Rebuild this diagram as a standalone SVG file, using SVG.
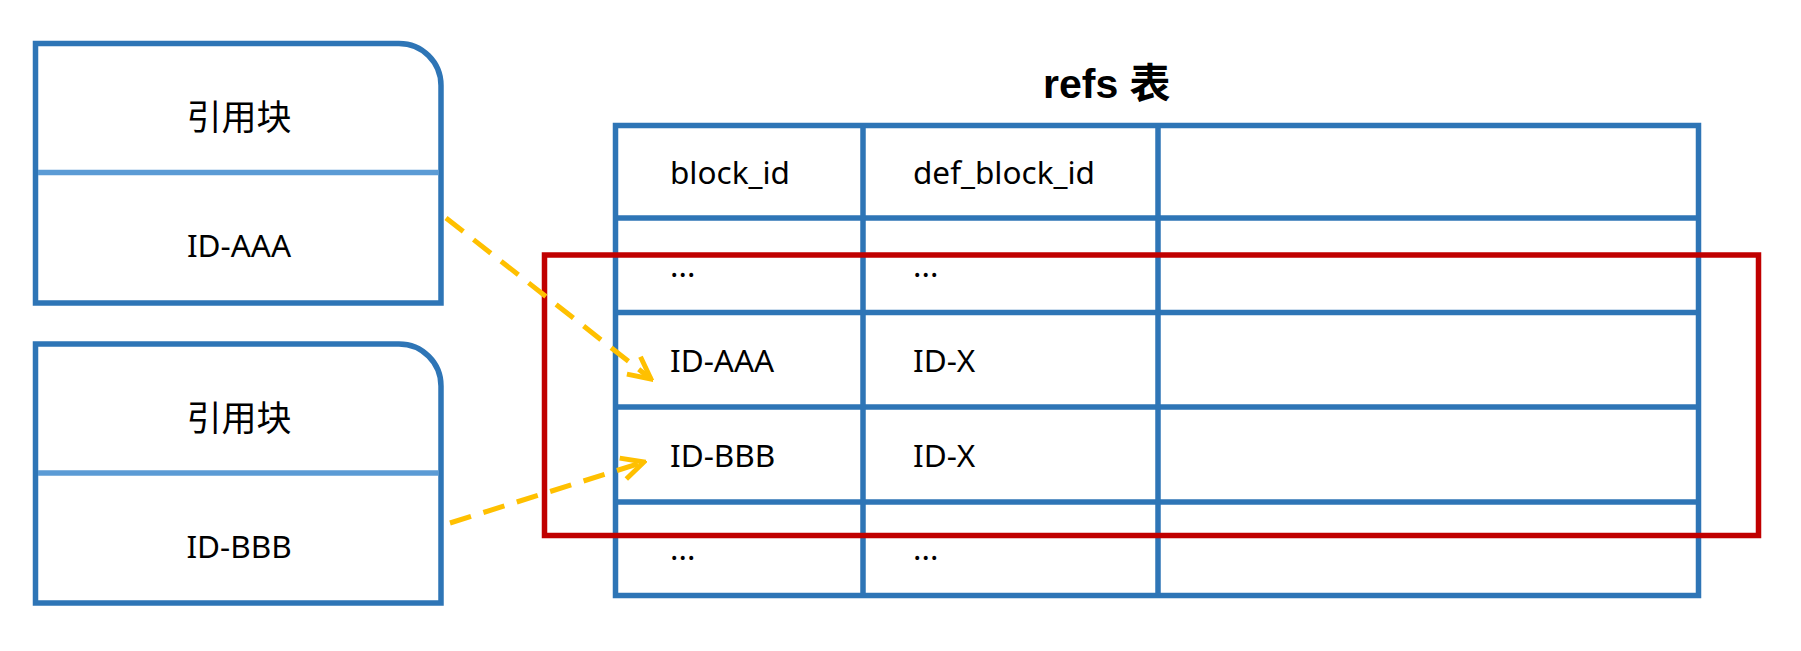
<svg xmlns="http://www.w3.org/2000/svg" width="1801" height="651" viewBox="0 0 1801 651">
<style>
.box{fill:#fff;stroke:#2E75B6;stroke-width:5.5}
.div{stroke:#5B9BD5;stroke-width:5.5}
.tl{stroke:#2E75B6;stroke-width:5.5;fill:none}
.cjk{font-family:"Noto Sans CJK SC",sans-serif;font-size:35px;fill:#000}
.lat{font-family:"Noto Sans","Noto Sans CJK SC",sans-serif;font-size:31.5px;fill:#000}
.title{font-family:"Liberation Sans","Noto Sans CJK SC",sans-serif;font-size:41px;font-weight:bold;fill:#000}
.conn{stroke:#FFC000;stroke-width:5;fill:none;stroke-dasharray:22 13}
</style>
<defs>
<marker id="arr" viewBox="0 0 10 10" refX="9" refY="5" markerWidth="5.5" markerHeight="5.5" markerUnits="strokeWidth" orient="auto">
<path d="M1,1 L9,5 L1,9" fill="none" stroke="#FFC000" stroke-width="1.8" stroke-linecap="butt" stroke-linejoin="miter"/>
</marker>
</defs>
<rect width="1801" height="651" fill="#fff"/>
<g id="block1">
<path class="box" d="M35.5,43.5 H399 A42,42 0 0 1 441,85.5 V303 H35.5 Z"/>
<line class="div" x1="38" y1="172.5" x2="438.5" y2="172.5"/>
<text class="cjk" x="239" y="130" text-anchor="middle">引用块</text>
<text class="lat" x="239" y="257" text-anchor="middle">ID-AAA</text>
</g>
<g id="block2">
<path class="box" d="M35.5,344 H399 A42,42 0 0 1 441,386 V603 H35.5 Z"/>
<line class="div" x1="38" y1="473" x2="438.5" y2="473"/>
<text class="cjk" x="239" y="431" text-anchor="middle">引用块</text>
<text class="lat" x="239" y="557.5" text-anchor="middle">ID-BBB</text>
</g>
<g id="refs-table">
<text class="title" x="1043" y="98">refs 表</text>
<rect class="tl" x="615.5" y="125.5" width="1083" height="470"/>
<line class="tl" x1="615.5" y1="218" x2="1698.5" y2="218"/>
<line class="tl" x1="615.5" y1="312.5" x2="1698.5" y2="312.5"/>
<line class="tl" x1="615.5" y1="407" x2="1698.5" y2="407"/>
<line class="tl" x1="615.5" y1="502" x2="1698.5" y2="502"/>
<line class="tl" x1="863" y1="125.5" x2="863" y2="595.5"/>
<line class="tl" x1="1158" y1="125.5" x2="1158" y2="595.5"/>
<text class="lat" x="670" y="184">block_id</text>
<text class="lat" x="913" y="184">def_block_id</text>
<text class="lat" x="670" y="277">...</text>
<text class="lat" x="913" y="277">...</text>
<text class="lat" x="670" y="372">ID-AAA</text>
<text class="lat" x="913" y="372">ID-X</text>
<text class="lat" x="670" y="467">ID-BBB</text>
<text class="lat" x="913" y="467">ID-X</text>
<text class="lat" x="670" y="560">...</text>
<text class="lat" x="913" y="560">...</text>
</g>
<g id="highlight">
<rect x="544.5" y="255" width="1214" height="280.5" fill="none" stroke="#C00000" stroke-width="5.5"/>
</g>
<g id="connectors">
<path class="conn" d="M446,218 L651,379" marker-end="url(#arr)"/>
<path class="conn" d="M450,523 L644,462" marker-end="url(#arr)"/>
</g>
</svg>
